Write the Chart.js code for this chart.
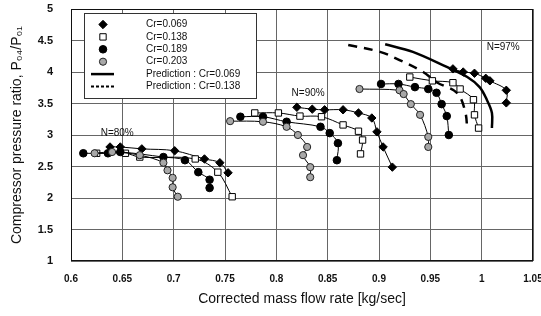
<!DOCTYPE html>
<html>
<head>
<meta charset="utf-8">
<script src="https://cdn.jsdelivr.net/npm/chart.js@4.4.1/dist/chart.umd.min.js"></script>
<style>
  html, body { margin: 0; padding: 0; background: #fff; }
  #wrap { width: 541px; height: 316px; }
</style>
</head>
<body>
<div id="wrap"><canvas id="mapChart" width="541" height="316"></canvas></div>
<script>
// tick labels
var xTicks = [0.6, 0.65, 0.7, 0.75, 0.8, 0.85, 0.9, 0.95, 1, 1.05];
var yTicks = [1, 1.5, 2, 2.5, 3, 3.5, 4, 4.5, 5];

// legend names
var crLabels = ['Cr=0.069', 'Cr=0.138', 'Cr=0.189', 'Cr=0.203'];
var predLabels = ['Prediction : Cr=0.069', 'Prediction : Cr=0.138'];

// speed line labels [text, mass flow, pressure ratio]
var speedLabels = [['N=80%', 0.645, 3.03], ['N=90%', 0.831, 3.67], ['N=97%', 1.021, 4.40]];

// measured points [mass flow, pressure ratio], per Cr and speed line
var cr069_n80 = [[0.638, 2.81], [0.648, 2.81], [0.669, 2.78], [0.701, 2.75], [0.730, 2.62], [0.745, 2.56], [0.753, 2.40]];
var cr069_n90 = [[0.820, 3.44], [0.835, 3.41], [0.847, 3.40], [0.865, 3.40], [0.880, 3.35], [0.893, 3.27], [0.898, 3.05], [0.904, 2.81], [0.913, 2.49]];
var cr069_n97 = [[0.972, 4.05], [0.982, 4.00], [0.993, 3.98], [1.004, 3.90], [1.008, 3.86], [1.024, 3.71], [1.024, 3.51]];

var cr138_n80 = [[0.625, 2.71], [0.653, 2.71], [0.667, 2.65], [0.721, 2.62], [0.743, 2.41], [0.757, 2.02]];
var cr138_n90 = [[0.779, 3.35], [0.802, 3.35], [0.823, 3.30], [0.844, 3.29], [0.865, 3.16], [0.880, 3.06], [0.884, 2.92], [0.882, 2.70]];
var cr138_n97 = [[0.930, 3.92], [0.952, 3.86], [0.972, 3.83], [0.979, 3.73], [0.992, 3.56], [0.993, 3.32], [0.997, 3.11]];

var cr189_n80 = [[0.612, 2.71], [0.636, 2.71], [0.648, 2.73], [0.690, 2.65], [0.711, 2.60], [0.724, 2.41], [0.735, 2.29], [0.735, 2.16]];
var cr189_n90 = [[0.765, 3.29], [0.787, 3.29], [0.810, 3.21], [0.843, 3.13], [0.852, 3.03], [0.860, 2.87], [0.859, 2.60]];
var cr189_n97 = [[0.902, 3.81], [0.919, 3.81], [0.935, 3.76], [0.948, 3.73], [0.956, 3.67], [0.961, 3.49], [0.966, 3.30], [0.968, 3.00]];

var cr203_n80 = [[0.623, 2.71], [0.640, 2.73], [0.667, 2.68], [0.690, 2.56], [0.694, 2.44], [0.699, 2.32], [0.699, 2.17], [0.704, 2.02]];
var cr203_n90 = [[0.755, 3.22], [0.787, 3.21], [0.810, 3.13], [0.821, 3.00], [0.830, 2.81], [0.826, 2.68], [0.833, 2.49], [0.833, 2.33]];
var cr203_n97 = [[0.881, 3.73], [0.920, 3.71], [0.924, 3.65], [0.931, 3.49], [0.940, 3.32], [0.948, 2.97], [0.948, 2.81]];

// prediction curves, N=97%
var pred069 = [[0.906, 4.44], [0.933, 4.32], [0.966, 4.08], [0.986, 3.92], [0.998, 3.76], [1.005, 3.56], [1.010, 3.35], [1.010, 3.11]];
var pred138 = [[0.870, 4.43], [0.901, 4.32], [0.920, 4.19], [0.943, 4.00], [0.957, 3.83], [0.976, 3.67], [0.984, 3.37], [0.986, 3.08]];

var toXY = function (arr) { return arr.map(function (p) { return { x: p[0], y: p[1] }; }); };

var markerStyles = [
  { pointStyle: 'rectRot', radius: 4.2, bg: '#000', border: '#000' },
  { pointStyle: 'rect', radius: 4.5, bg: '#fff', border: '#000' },
  { pointStyle: 'circle', radius: 3.8, bg: '#000', border: '#000' },
  { pointStyle: 'circle', radius: 3.6, bg: '#a8a8a8', border: '#222' }
];
var groups = [
  [cr069_n80, cr069_n90, cr069_n97],
  [cr138_n80, cr138_n90, cr138_n97],
  [cr189_n80, cr189_n90, cr189_n97],
  [cr203_n80, cr203_n90, cr203_n97]
];

var datasets = [];
groups.forEach(function (g, i) {
  var st = markerStyles[i];
  g.forEach(function (arr, j) {
    datasets.push({
      label: j === 0 ? crLabels[i] : '',
      data: toXY(arr),
      showLine: true,
      tension: 0.35,
      borderColor: '#000',
      borderWidth: 1,
      pointStyle: st.pointStyle,
      pointRadius: st.radius,
      pointBackgroundColor: st.bg,
      pointBorderColor: st.border,
      pointBorderWidth: 1,
      order: 4 - i
    });
  });
});
datasets.push({
  label: predLabels[0], data: toXY(pred069), showLine: true, tension: 0.35,
  borderColor: '#000', borderWidth: 2.5, pointRadius: 0, order: 10
});
datasets.push({
  label: predLabels[1], data: toXY(pred138), showLine: true, tension: 0.35,
  borderColor: '#000', borderWidth: 2.5, borderDash: [9, 7], pointRadius: 0, order: 10
});

// frame around plot
var framePlugin = {
  id: 'frame',
  beforeDatasetsDraw: function (chart) {
    var a = chart.chartArea, ctx = chart.ctx;
    ctx.save();
    ctx.strokeStyle = '#111';
    ctx.lineWidth = 1;
    ctx.strokeRect(a.left + 0.5, a.top + 0.5, a.right - a.left - 1, a.bottom - a.top - 1);
    ctx.restore();
  }
};

// N= labels
var speedPlugin = {
  id: 'speeds',
  afterDatasetsDraw: function (chart) {
    var ctx = chart.ctx, xs = chart.scales.x, ys = chart.scales.y;
    ctx.save();
    ctx.font = '10px "Liberation Sans", Arial, sans-serif';
    ctx.fillStyle = '#111';
    ctx.textAlign = 'center';
    ctx.textBaseline = 'middle';
    speedLabels.forEach(function (s) {
      ctx.fillText(s[0], xs.getPixelForValue(s[1]), ys.getPixelForValue(s[2]));
    });
    ctx.restore();
  }
};

// legend box inside the plot
var legendPlugin = {
  id: 'boxLegend',
  afterDatasetsDraw: function (chart) {
    var ctx = chart.ctx, a = chart.chartArea;
    var bx = a.left + 13, by = a.top + 4, bw = 172, bh = 85;
    ctx.save();
    ctx.fillStyle = '#fff';
    ctx.fillRect(bx, by, bw, bh);
    ctx.strokeStyle = '#333';
    ctx.lineWidth = 1;
    ctx.strokeRect(bx + 0.5, by + 0.5, bw, bh);
    var mx = bx + 19, tx = bx + 62, rowH = 12.4, y0 = by + 11.5;
    ctx.font = '10px "Liberation Sans", Arial, sans-serif';
    ctx.textBaseline = 'middle';
    ctx.textAlign = 'left';
    crLabels.forEach(function (lab, i) {
      var st = markerStyles[i], y = y0 + i * rowH;
      ctx.fillStyle = st.bg;
      ctx.strokeStyle = st.border;
      ctx.lineWidth = 1;
      Chart.helpers.drawPoint(ctx, { pointStyle: st.pointStyle, radius: st.radius, rotation: 0, borderWidth: 1 }, mx, y);
      ctx.fillStyle = '#111';
      ctx.fillText(lab, tx, y);
    });
    predLabels.forEach(function (lab, i) {
      var y = y0 + (4 + i) * rowH;
      ctx.strokeStyle = '#000';
      ctx.lineWidth = i === 0 ? 2.5 : 2;
      ctx.setLineDash(i === 0 ? [] : [3, 2]);
      ctx.beginPath();
      ctx.moveTo(mx - 12, y);
      ctx.lineTo(mx + 11, y);
      ctx.stroke();
      ctx.setLineDash([]);
      ctx.fillStyle = '#111';
      ctx.fillText(lab, tx, y);
    });
    ctx.restore();
  }
};

new Chart(document.getElementById('mapChart').getContext('2d'), {
  type: 'scatter',
  data: { datasets: datasets },
  options: {
    responsive: false,
    animation: false,
    layout: { padding: { top: 9, right: 8, left: 0, bottom: 0 } },
    plugins: { legend: { display: false }, tooltip: { enabled: false } },
    scales: {
      x: {
        type: 'linear', min: 0.6, max: 1.05,
        afterFit: function (s) { s.height = 55; s.paddingLeft = 0; s.paddingRight = 0; },
        afterBuildTicks: function (s) { s.ticks = xTicks.map(function (v) { return { value: v }; }); },
        ticks: {
          padding: 12, color: '#111', maxRotation: 0,
          font: { family: '"Liberation Sans", Arial, sans-serif', size: 10, weight: 'bold' },
          callback: function (v) { return String(v); }
        },
        grid: { color: '#666', lineWidth: 1, drawTicks: false },
        border: { display: false },
        title: {
          display: true, text: 'Corrected mass flow rate [kg/sec]', color: '#111',
          font: { family: '"Liberation Sans", Arial, sans-serif', size: 14 },
          padding: { top: 0, bottom: 8 }
        }
      },
      y: {
        type: 'linear', min: 1, max: 5,
        afterFit: function (s) { s.width = 71; s.paddingTop = 0; s.paddingBottom = 0; },
        afterBuildTicks: function (s) { s.ticks = yTicks.map(function (v) { return { value: v }; }); },
        ticks: {
          padding: 18, color: '#111',
          font: { family: '"Liberation Sans", Arial, sans-serif', size: 11, weight: 'bold' },
          callback: function (v) { return String(v); }
        },
        grid: { color: '#666', lineWidth: 1, drawTicks: false },
        border: { display: false },
        title: {
          display: true, text: 'Compressor pressure ratio, P\u2080\u2084/P\u2080\u2081', color: '#111',
          font: { family: '"Liberation Sans", Arial, sans-serif', size: 14 },
          padding: { top: 9, bottom: 0 }
        }
      }
    }
  },
  plugins: [framePlugin, speedPlugin, legendPlugin]
});
</script>
</body>
</html>
